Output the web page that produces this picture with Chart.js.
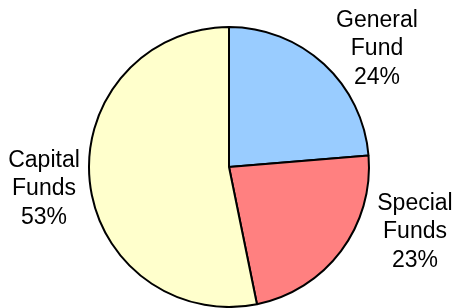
<!DOCTYPE html>
<html lang="en">
<head>
    <meta charset="UTF-8">
    <title>Funds Pie</title>
    <script src="https://cdn.jsdelivr.net/npm/chart.js"></script>
    <style>
        html, body { margin: 0; padding: 0; background: #fff; }
        #wrap { width: 454px; height: 308px; }
    </style>
</head>
<body>
    <div id="wrap"><canvas id="fundsChart" width="454" height="308"></canvas></div>

    <script>
        // chart data
        const categories = [['General', 'Fund'], ['Special', 'Funds'], ['Capital', 'Funds']];
        const shares = [23.7, 23.1, 53.2];
        const sliceColors = ['#99CCFF', '#FF8080', '#FFFFCC'];

        // label placement relative to pie centre (x = text centre, y = baseline of middle line)
        const labelOffsets = [[148, -112], [186, 71], [-185, 28]];
        const lineGap = 28.5;

        const outsideLabels = {
            id: 'outsideLabels',
            afterDatasetsDraw(chart) {
                const ctx = chart.ctx;
                const arcs = chart.getDatasetMeta(0).data;
                ctx.save();
                ctx.fillStyle = '#000';
                ctx.font = '23px "Liberation Sans", Arial, sans-serif';
                ctx.textAlign = 'center';
                ctx.textBaseline = 'alphabetic';
                arcs.forEach((arc, i) => {
                    const cx = arc.x + labelOffsets[i][0];
                    const cy = arc.y + labelOffsets[i][1];
                    const lines = categories[i].concat([Math.round(shares[i]) + '%']);
                    lines.forEach((txt, j) => {
                        ctx.fillText(txt, cx, cy + (j - 1) * lineGap);
                    });
                });
                ctx.restore();
            }
        };

        new Chart(document.getElementById('fundsChart'), {
            type: 'pie',
            data: {
                labels: categories.map(c => c.join(' ')),
                datasets: [{
                    data: shares,
                    backgroundColor: sliceColors,
                    borderColor: '#000',
                    borderWidth: 2
                }]
            },
            options: {
                responsive: false,
                animation: false,
                layout: { padding: { top: 26, bottom: 0, left: 4, right: 0 } },
                plugins: {
                    legend: { display: false },
                    tooltip: { enabled: false }
                }
            },
            plugins: [outsideLabels]
        });
    </script>
</body>
</html>
